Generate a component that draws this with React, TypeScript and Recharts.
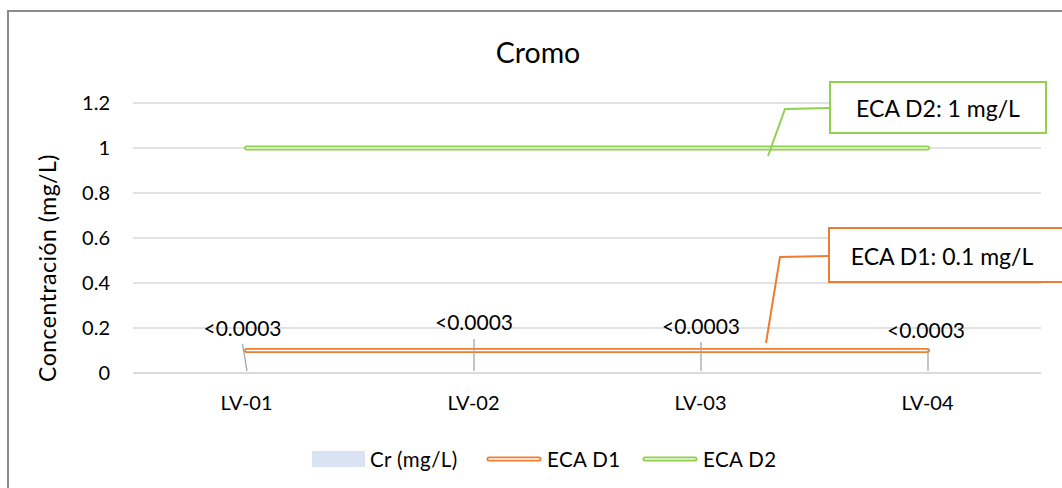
import React from 'react';
import {
  ComposedChart,
  Bar,
  Line,
  XAxis,
  YAxis,
  CartesianGrid,
  LabelList,
} from 'recharts';

const categories = ['LV-01', 'LV-02', 'LV-03', 'LV-04'];
const crValues = [0.0003, 0.0003, 0.0003, 0.0003];
const crLabels = ['<0.0003', '<0.0003', '<0.0003', '<0.0003'];
const ecaD1 = [0.1, 0.1, 0.1, 0.1];
const ecaD2 = [1, 1, 1, 1];
const yTicks = [0, 0.2, 0.4, 0.6, 0.8, 1, 1.2];

const data = categories.map((name, i) => ({
  name,
  cr: crValues[i],
  crLabel: crLabels[i],
  d1: ecaD1[i],
  d2: ecaD2[i],
}));

const FONT = 'Lato, "Open Sans", sans-serif';
const ORANGE = '#ed7d31';
const GREEN = '#92d050';
const BAR = '#dae3f3';
const GRID = '#d9d9d9';

// where each "<0.0003" label was dragged to (relative to bar centre / baseline)
const labelShift = [
  { dx: -4.5, dy: -45, lx: -4.5, ly: -28 },
  { dx: 0, dy: -51, lx: 0, ly: -33 },
  { dx: 0, dy: -47, lx: 0, ly: -30 },
  { dx: -2, dy: -43, lx: 0, ly: -24 },
];

const BarLabel = (props: any) => {
  const { x, y, width, index, value } = props;
  const s = labelShift[index];
  const cx = x + width / 2;
  return (
    <g>
      <line x1={cx + s.lx} y1={y + s.ly} x2={cx} y2={y - 1} stroke="#a6a6a6" strokeWidth={1.3} />
      <text
        x={cx + s.dx}
        y={y + s.dy}
        textAnchor="middle"
        dominantBaseline="central"
        fontFamily={FONT}
        fontSize={21}
        fill="#000"
      >
        {value}
      </text>
    </g>
  );
};

const makeCallout = (text: string, color: string, shape: any) => (props: any) => {
  const { x, y, index } = props;
  if (index !== 2) return null;
  const { leader, box, tx } = shape;
  const pts = leader.map((p: number[]) => `${x + p[0]},${y + p[1]}`).join(' ');
  return (
    <g>
      <polyline points={pts} fill="none" stroke={color} strokeWidth={2} />
      <rect x={x + box[0]} y={y + box[1]} width={box[2]} height={box[3]} fill="#fff" stroke={color} strokeWidth={2} />
      <text
        x={x + tx[0]}
        y={y + tx[1]}
        textAnchor="middle"
        dominantBaseline="central"
        fontFamily={FONT}
        fontSize={23}
        fill="#000"
      >
        {text}
      </text>
    </g>
  );
};

const D2Callout = makeCallout('ECA D2: 1 mg/L', GREEN, {
  leader: [[67.5, 8], [84.5, -39], [129.5, -40]],
  box: [129.5, -66, 216, 51],
  tx: [237.5, -40],
});

const D1Callout = makeCallout('ECA D1: 0.1 mg/L', ORANGE, {
  leader: [[65.5, -7.5], [79.5, -93.5], [128.5, -94.5]],
  box: [128.5, -122.5, 260, 54],
  tx: [241.5, -94.5],
});

const LegendLine = ({ color, inner }: { color: string; inner: string }) => (
  <svg width={56} height={10} style={{ display: 'block' }}>
    <line x1={3} y1={5} x2={53} y2={5} stroke={color} strokeWidth={5} strokeLinecap="round" />
    <line x1={3} y1={5} x2={53} y2={5} stroke={inner} strokeWidth={1.4} strokeLinecap="round" />
  </svg>
);

export default function App() {
  const legendText: React.CSSProperties = {
    position: 'absolute',
    top: 446,
    fontFamily: FONT,
    fontSize: 20.5,
    letterSpacing: 0.4,
    color: '#000',
    lineHeight: '26px',
  };
  return (
    <div style={{ position: 'absolute', left: 0, top: 0, width: 1062, height: 488, overflow: 'hidden', background: '#fff' }}>
      <div
        style={{
          position: 'absolute',
          left: 7,
          top: 10,
          width: 1100,
          height: 520,
          borderLeft: '2px solid #8c8c8c',
          borderTop: '2px solid #8c8c8c',
        }}
      />
      <div
        style={{
          position: 'absolute',
          left: 0,
          width: 1076,
          top: 33,
          textAlign: 'center',
          fontFamily: FONT,
          fontSize: 28.5,
          lineHeight: '38px',
          color: '#000',
        }}
      >
        Cromo
      </div>
      <div style={{ position: 'absolute', left: 0, top: 0 }}>
        <ComposedChart
          width={1062}
          height={488}
          data={data}
          margin={{ top: 103, right: 21, left: 38, bottom: 75 }}
        >
          <CartesianGrid vertical={false} stroke={GRID} strokeWidth={1.3} />
          <XAxis
            dataKey="name"
            height={40}
            axisLine={{ stroke: GRID, strokeWidth: 1.3 }}
            tickLine={false}
            tickSize={0}
            tickMargin={23}
            tick={{ fontFamily: FONT, fontSize: 20, fill: '#000' }}
          />
          <YAxis
            width={95}
            domain={[0, 1.2]}
            ticks={yTicks}
            axisLine={false}
            tickLine={false}
            tickSize={0}
            tickMargin={23}
            tick={{ fontFamily: FONT, fontSize: 20, fill: '#000' }}
            label={{
              value: 'Concentración (mg/L)',
              angle: -90,
              position: 'center',
              dx: -38,
              dy: 30,
              style: { fontFamily: FONT, fontSize: 23, letterSpacing: 0.5, fill: '#000', textAnchor: 'middle' },
            }}
          />
          <Bar dataKey="cr" fill={BAR} barSize={70} minPointSize={1} isAnimationActive={false}>
            <LabelList dataKey="crLabel" content={BarLabel} />
          </Bar>
          <Line
            type="linear"
            dataKey="d1"
            stroke={ORANGE}
            strokeWidth={5}
            strokeLinecap="round"
            dot={false}
            activeDot={false}
            isAnimationActive={false}
          />
          <Line
            type="linear"
            dataKey="d1"
            stroke="#fff"
            strokeWidth={1.4}
            strokeLinecap="round"
            dot={false}
            activeDot={false}
            isAnimationActive={false}
          >
            <LabelList dataKey="d1" content={D1Callout} />
          </Line>
          <Line
            type="linear"
            dataKey="d2"
            stroke={GREEN}
            strokeWidth={5}
            strokeLinecap="round"
            dot={false}
            activeDot={false}
            isAnimationActive={false}
          />
          <Line
            type="linear"
            dataKey="d2"
            stroke="#eef7e4"
            strokeWidth={1.4}
            strokeLinecap="round"
            dot={false}
            activeDot={false}
            isAnimationActive={false}
          >
            <LabelList dataKey="d2" content={D2Callout} />
          </Line>
        </ComposedChart>
      </div>
      <div style={{ position: 'absolute', left: 312, top: 451, width: 53, height: 16, background: BAR }} />
      <div style={{ ...legendText, left: 370 }}>Cr (mg/L)</div>
      <div style={{ position: 'absolute', left: 486, top: 454 }}>
        <LegendLine color={ORANGE} inner="#fff" />
      </div>
      <div style={{ ...legendText, left: 547 }}>ECA D1</div>
      <div style={{ position: 'absolute', left: 642, top: 454 }}>
        <LegendLine color={GREEN} inner="#eef7e4" />
      </div>
      <div style={{ ...legendText, left: 703 }}>ECA D2</div>
    </div>
  );
}
